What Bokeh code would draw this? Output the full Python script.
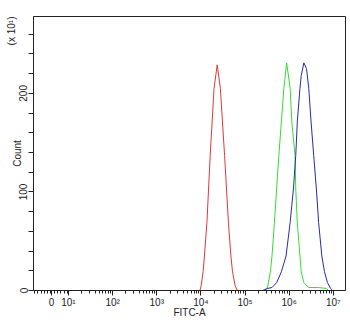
import math
from bokeh.plotting import figure
from bokeh.models import Range1d, FixedTicker, Title
from bokeh.embed import file_html
from bokeh.resources import INLINE

# --- data (x in log10 display units of FITC-A, y = count) ---
red_x = [3.978, 4.007, 4.05, 4.08, 4.137, 4.211, 4.298, 4.37, 4.441, 4.537, 4.624, 4.68, 4.717, 4.776, 4.826]
red_y = [0, 5, 19, 35, 69, 137, 205, 229, 205, 137, 69, 35, 19, 5, 0]

green_x = [5.432, 5.504, 5.574, 5.611, 5.666, 5.766, 5.879, 5.943, 6.022, 6.06, 6.133, 6.149, 6.184, 6.244, 6.273, 6.333, 6.444, 6.667, 6.844, 6.89]
green_y = [0, 2, 19, 35, 69, 137, 205, 231, 205, 171, 137, 103, 69, 35, 19, 8, 3, 3, 2, 0]

blue_x = [5.398, 5.504, 5.611, 5.717, 5.823, 5.929, 6.022, 6.096, 6.149, 6.184, 6.244, 6.273, 6.333, 6.393, 6.444, 6.496, 6.556, 6.616, 6.667, 6.74, 6.8, 6.867, 6.94, 6.984]
blue_y = [0, 2, 3, 8, 19, 35, 69, 103, 137, 171, 205, 218, 231, 225, 205, 171, 137, 103, 69, 35, 19, 8, 2, 0]

x_major = [0.615, 1, 2, 3, 4, 5, 6, 7]
x_major_labels = ["0", "10¹", "10²", "10³", "10⁴", "10⁵", "10⁶", "10⁷"]
y_major = [0, 100, 200]
y_minor = [20, 40, 60, 80, 120, 140, 160, 180, 220, 240, 260]

X_MIN, X_MAX = 0.208, 7.276
Y_MIN, Y_MAX = 0, 278

FONT = "Liberation Sans"
TXT = "#222222"

p = figure(width=350, height=323, output_backend="svg", toolbar_location=None,
           x_range=Range1d(X_MIN, X_MAX), y_range=Range1d(Y_MIN, Y_MAX),
           min_border_left=33, min_border_right=5, min_border_top=16, min_border_bottom=33)
p.grid.visible = False
p.outline_line_color = TXT
p.outline_line_width = 1
p.background_fill_color = "white"
p.border_fill_color = "white"

# minor ticks for x: linear zone + log decades
x_minor = []
v = X_MIN + 0.02
while v < 1.0:
    x_minor.append(round(v, 3))
    v += 0.075
for dec in range(1, 8):
    for k in range(2, 10):
        t = dec + math.log10(k)
        if t < X_MAX:
            x_minor.append(t)

p.xaxis.ticker = FixedTicker(ticks=x_major, minor_ticks=x_minor)
p.xaxis.major_label_overrides = {t: l for t, l in zip(x_major, x_major_labels)}
p.yaxis.ticker = FixedTicker(ticks=y_major, minor_ticks=y_minor)
p.yaxis.major_label_orientation = "vertical"

for ax in (p.xaxis[0], p.yaxis[0]):
    ax.axis_line_color = TXT
    ax.major_tick_line_color = TXT
    ax.minor_tick_line_color = TXT
    ax.major_tick_in = 0
    ax.minor_tick_in = 0
    ax.major_label_text_font = FONT
    ax.major_label_text_font_size = "10px"
    ax.major_label_text_color = TXT
    ax.major_label_standoff = 1
    ax.axis_label_text_font = FONT
    ax.axis_label_text_font_size = "10px"
    ax.axis_label_text_font_style = "normal"
    ax.axis_label_text_color = TXT

p.xaxis.major_tick_out = 5
p.xaxis.minor_tick_out = 3
p.yaxis.major_tick_out = 5
p.yaxis.minor_tick_out = 5

p.xaxis.axis_label = "FITC-A"
p.xaxis.axis_label_standoff = -4

p.line(red_x, red_y, line_color="#e03838", line_width=1)
p.line(green_x, green_y, line_color="#33dd33", line_width=1)
p.line(blue_x, blue_y, line_color="#2a2aa8", line_width=1)

# y-axis title and multiplier as left-side titles sharing the same column
p.add_layout(Title(text="Count", align="center", standoff=-13,
                   text_font=FONT, text_font_size="10px", text_font_style="normal",
                   text_color=TXT), "left")
p.add_layout(Title(text="(x 10¹)", align="right", standoff=0,
                   text_font=FONT, text_font_size="10px", text_font_style="normal",
                   text_color=TXT), "left")

open("out.html", "w").write(file_html(p, INLINE))
